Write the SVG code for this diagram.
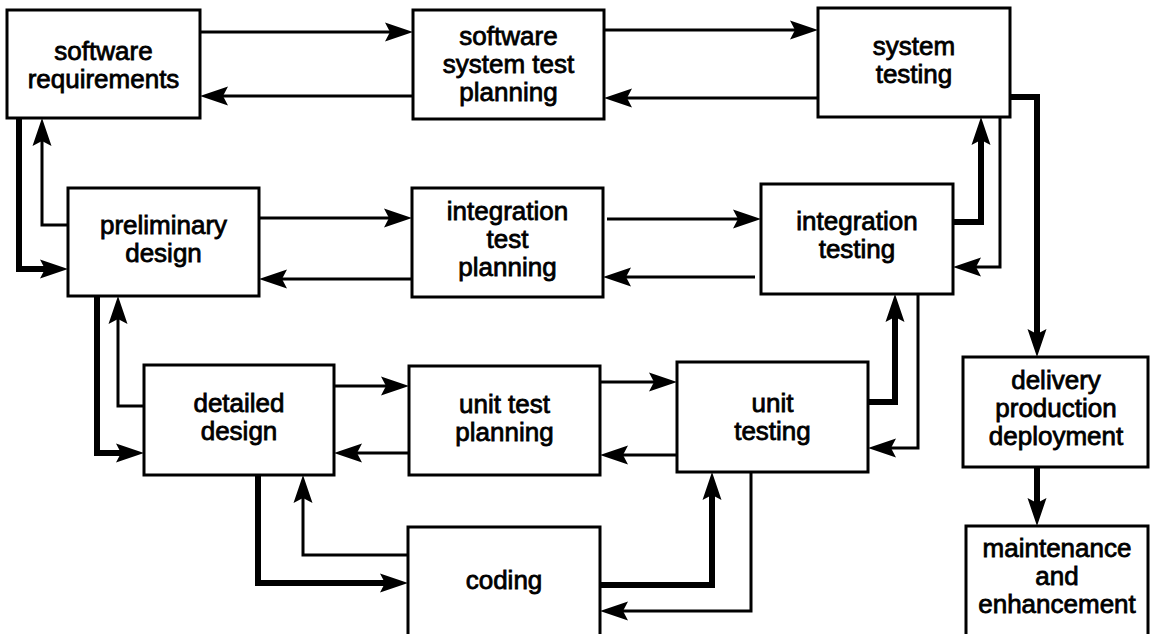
<svg xmlns="http://www.w3.org/2000/svg" width="1151" height="634" viewBox="0 0 1151 634">
<style>
.box{fill:#fff;stroke:#000;stroke-width:3}
.t{font-family:"Liberation Sans",Arial,sans-serif;font-size:26px;fill:#000;stroke:#000;stroke-width:0.8;text-anchor:middle}
.thin{fill:none;stroke:#000;stroke-width:3;marker-end:url(#ah)}
.thick{fill:none;stroke:#000;stroke-width:6;marker-end:url(#ah)}
</style>
<defs>
<marker id="ah" viewBox="0 -10 28 20" refX="18" refY="0" markerWidth="28" markerHeight="20" markerUnits="userSpaceOnUse" orient="auto">
<path d="M0,-9.5 L28,0 L0,9.5 L5,0 Z" fill="#000"/>
</marker>
</defs>
<rect width="1151" height="634" fill="#fff"/>
<g id="connectors">
<path class="thin" d="M200,32 H403"/>
<path class="thin" d="M413,96 H210"/>
<path class="thin" d="M604,30 H808"/>
<path class="thin" d="M818,98 H614"/>
<path class="thick" d="M19,118 V269 H58"/>
<path class="thin" d="M68,225 H42 V128"/>
<path class="thin" d="M259,218 H402"/>
<path class="thin" d="M412,279 H269"/>
<path class="thin" d="M607,219 H751"/>
<path class="thin" d="M755,277 H613"/>
<path class="thick" d="M953,222 H981 V127"/>
<path class="thin" d="M1000,117 V267 H963"/>
<path class="thick" d="M1010,97 H1037 V347"/>
<path class="thick" d="M97,296 V453 H134"/>
<path class="thin" d="M144,406 H118 V306"/>
<path class="thin" d="M334,386 H399"/>
<path class="thin" d="M409,453 H344"/>
<path class="thin" d="M600,382 H667"/>
<path class="thin" d="M677,455 H610"/>
<path class="thick" d="M868,402 H895 V304"/>
<path class="thin" d="M918,294 V448 H878"/>
<path class="thick" d="M258,475 V583 H398"/>
<path class="thin" d="M408,555 H303 V485"/>
<path class="thick" d="M600,585 H712 V482"/>
<path class="thin" d="M751,472 V611 H610"/>
<path class="thick" d="M1037,467 V516"/>
</g>
<g id="software-requirements">
<rect class="box" x="7" y="10" width="193" height="108"/>
<text class="t" x="103.5" y="60">software</text>
<text class="t" x="103.5" y="88">requirements</text>
</g>
<g id="software-system-test-planning">
<rect class="box" x="413" y="10" width="191" height="109"/>
<text class="t" x="508.5" y="45">software</text>
<text class="t" x="508.5" y="73">system test</text>
<text class="t" x="508.5" y="101">planning</text>
</g>
<g id="system-testing">
<rect class="box" x="818" y="8" width="192" height="109"/>
<text class="t" x="914" y="55">system</text>
<text class="t" x="914" y="83">testing</text>
</g>
<g id="preliminary-design">
<rect class="box" x="68" y="188" width="191" height="108"/>
<text class="t" x="163.5" y="234">preliminary</text>
<text class="t" x="163.5" y="262">design</text>
</g>
<g id="integration-test-planning">
<rect class="box" x="412" y="188" width="191" height="109"/>
<text class="t" x="507.5" y="220">integration</text>
<text class="t" x="507.5" y="248">test</text>
<text class="t" x="507.5" y="276">planning</text>
</g>
<g id="integration-testing">
<rect class="box" x="761" y="184" width="192" height="110"/>
<text class="t" x="857" y="230">integration</text>
<text class="t" x="857" y="258">testing</text>
</g>
<g id="detailed-design">
<rect class="box" x="144" y="365" width="190" height="110"/>
<text class="t" x="239" y="412">detailed</text>
<text class="t" x="239" y="440">design</text>
</g>
<g id="unit-test-planning">
<rect class="box" x="409" y="366" width="191" height="109"/>
<text class="t" x="504.5" y="413">unit test</text>
<text class="t" x="504.5" y="441">planning</text>
</g>
<g id="unit-testing">
<rect class="box" x="677" y="362" width="191" height="110"/>
<text class="t" x="772.5" y="412">unit</text>
<text class="t" x="772.5" y="440">testing</text>
</g>
<g id="coding">
<rect class="box" x="408" y="527" width="192" height="120"/>
<text class="t" x="504" y="589">coding</text>
</g>
<g id="delivery-production-deployment">
<rect class="box" x="963" y="357" width="185" height="110"/>
<text class="t" x="1056" y="389">delivery</text>
<text class="t" x="1056" y="417">production</text>
<text class="t" x="1056" y="445">deployment</text>
</g>
<g id="maintenance-and-enhancement">
<rect class="box" x="966" y="526" width="182" height="120"/>
<text class="t" x="1057" y="557">maintenance</text>
<text class="t" x="1057" y="585">and</text>
<text class="t" x="1057" y="613">enhancement</text>
</g>
</svg>
